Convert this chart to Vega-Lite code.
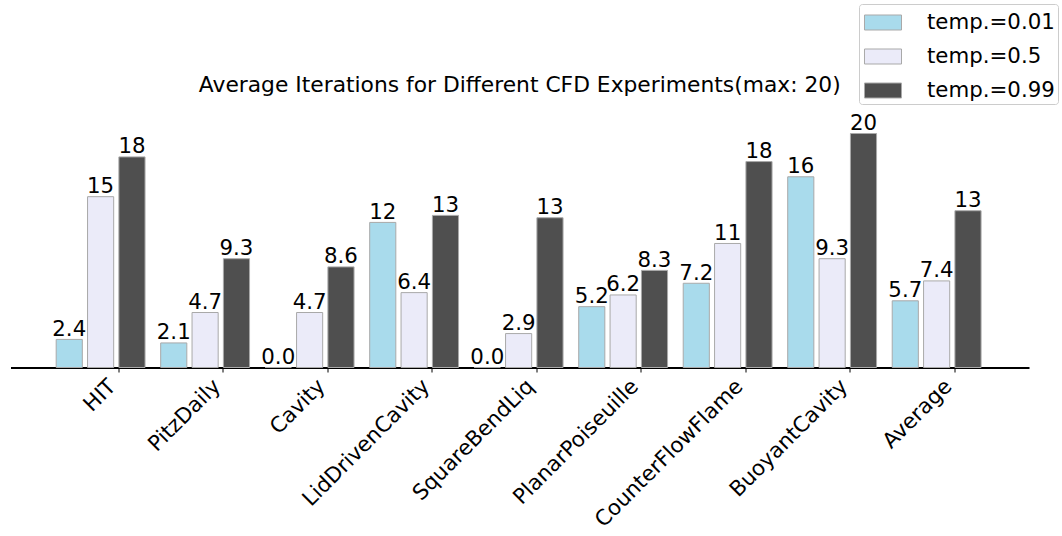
{
  "$schema": "https://vega.github.io/schema/vega-lite/v6.json",
  "autosize": {"type": "none"},
  "width": 1018.5,
  "height": 234,
  "padding": {"left": 10.5, "top": 133.5, "right": 33, "bottom": 168.5},
  "background": "white",
  "title": {
    "text": "Average Iterations for Different CFD Experiments(max: 20)",
    "font": "DejaVu Sans",
    "fontSize": 21.8,
    "fontWeight": "normal",
    "color": "black",
    "anchor": "middle",
    "frame": "group",
    "offset": 32,
    "dy": 125.5
  },
  "config": {
    "view": {"stroke": null},
    "font": "DejaVu Sans"
  },
  "data": {
    "values": [
      {"exp": "HIT", "temp": "temp.=0.01", "v": 2.4},
      {"exp": "HIT", "temp": "temp.=0.5", "v": 14.6},
      {"exp": "HIT", "temp": "temp.=0.99", "v": 18.0},
      {"exp": "PitzDaily", "temp": "temp.=0.01", "v": 2.1},
      {"exp": "PitzDaily", "temp": "temp.=0.5", "v": 4.7},
      {"exp": "PitzDaily", "temp": "temp.=0.99", "v": 9.3},
      {"exp": "Cavity", "temp": "temp.=0.01", "v": 0},
      {"exp": "Cavity", "temp": "temp.=0.5", "v": 4.7},
      {"exp": "Cavity", "temp": "temp.=0.99", "v": 8.6},
      {"exp": "LidDrivenCavity", "temp": "temp.=0.01", "v": 12.4},
      {"exp": "LidDrivenCavity", "temp": "temp.=0.5", "v": 6.4},
      {"exp": "LidDrivenCavity", "temp": "temp.=0.99", "v": 13.0},
      {"exp": "SquareBendLiq", "temp": "temp.=0.01", "v": 0},
      {"exp": "SquareBendLiq", "temp": "temp.=0.5", "v": 2.9},
      {"exp": "SquareBendLiq", "temp": "temp.=0.99", "v": 12.8},
      {"exp": "PlanarPoiseuille", "temp": "temp.=0.01", "v": 5.2},
      {"exp": "PlanarPoiseuille", "temp": "temp.=0.5", "v": 6.2},
      {"exp": "PlanarPoiseuille", "temp": "temp.=0.99", "v": 8.3},
      {"exp": "CounterFlowFlame", "temp": "temp.=0.01", "v": 7.2},
      {"exp": "CounterFlowFlame", "temp": "temp.=0.5", "v": 10.6},
      {"exp": "CounterFlowFlame", "temp": "temp.=0.99", "v": 17.6},
      {"exp": "BuoyantCavity", "temp": "temp.=0.01", "v": 16.3},
      {"exp": "BuoyantCavity", "temp": "temp.=0.5", "v": 9.3},
      {"exp": "BuoyantCavity", "temp": "temp.=0.99", "v": 20.0},
      {"exp": "Average", "temp": "temp.=0.01", "v": 5.7},
      {"exp": "Average", "temp": "temp.=0.5", "v": 7.4},
      {"exp": "Average", "temp": "temp.=0.99", "v": 13.4}
    ]
  },
  "encoding": {
    "x": {
      "field": "exp",
      "type": "nominal",
      "sort": null,
      "scale": {"paddingInner": 0, "paddingOuter": 0.373, "align": 0.72},
      "axis": {
        "title": null,
        "domainColor": "black",
        "domainWidth": 2,
        "tickColor": "black",
        "tickSize": 4.5,
        "tickWidth": 1,
        "labelAngle": -45,
        "labelAlign": "right",
        "labelBaseline": "bottom",
        "labelFont": "DejaVu Sans",
        "labelFontSize": 21.3,
        "labelColor": "black",
        "labelPadding": 18,
        "labelOffset": 1,
        "labelLimit": 400,
        "grid": false
      }
    },
    "xOffset": {
      "field": "temp",
      "type": "nominal",
      "sort": ["temp.=0.01", "temp.=0.5", "temp.=0.99"],
      "scale": {"range": [-10.45, 78.4], "paddingInner": 0.1667, "paddingOuter": 0}
    },
    "y": {
      "field": "v",
      "type": "quantitative",
      "scale": {"domain": [0, 20], "nice": false, "zero": true},
      "axis": null
    }
  },
  "layer": [
    {
      "mark": {"type": "bar", "stroke": "#a9a9a9", "strokeWidth": 1},
      "encoding": {
        "color": {
          "field": "temp",
          "type": "nominal",
          "sort": ["temp.=0.01", "temp.=0.5", "temp.=0.99"],
          "scale": {
            "domain": ["temp.=0.01", "temp.=0.5", "temp.=0.99"],
            "range": ["#a9dbec", "#ebebf9", "#4f4f4f"]
          },
          "legend": {
            "title": null,
            "orient": "none",
            "legendX": 848.5,
            "legendY": -129.5,
            "padding": 3,
            "strokeColor": "#cccccc",
            "fillColor": "white",
            "cornerRadius": 3,
            "symbolType": "M-0.867,-0.5H1.6V0.5H-0.867Z",
            "symbolSize": 900,
            "symbolStrokeColor": "#a9a9a9",
            "symbolStrokeWidth": 1,
            "symbolOpacity": 1,
            "labelFont": "DejaVu Sans",
            "labelFontSize": 21.3,
            "labelColor": "black",
            "labelOffset": 34,
            "rowPadding": 8,
            "labelLimit": 300
          }
        }
      }
    },
    {
      "mark": {"type": "text", "baseline": "alphabetic", "dy": -3.5, "font": "DejaVu Sans", "fontSize": 21.3, "color": "black"},
      "encoding": {
        "text": {
          "condition": {"test": "datum.v === 0", "value": "0.0"},
          "field": "v",
          "type": "quantitative",
          "format": ".2r"
        }
      }
    }
  ]
}
